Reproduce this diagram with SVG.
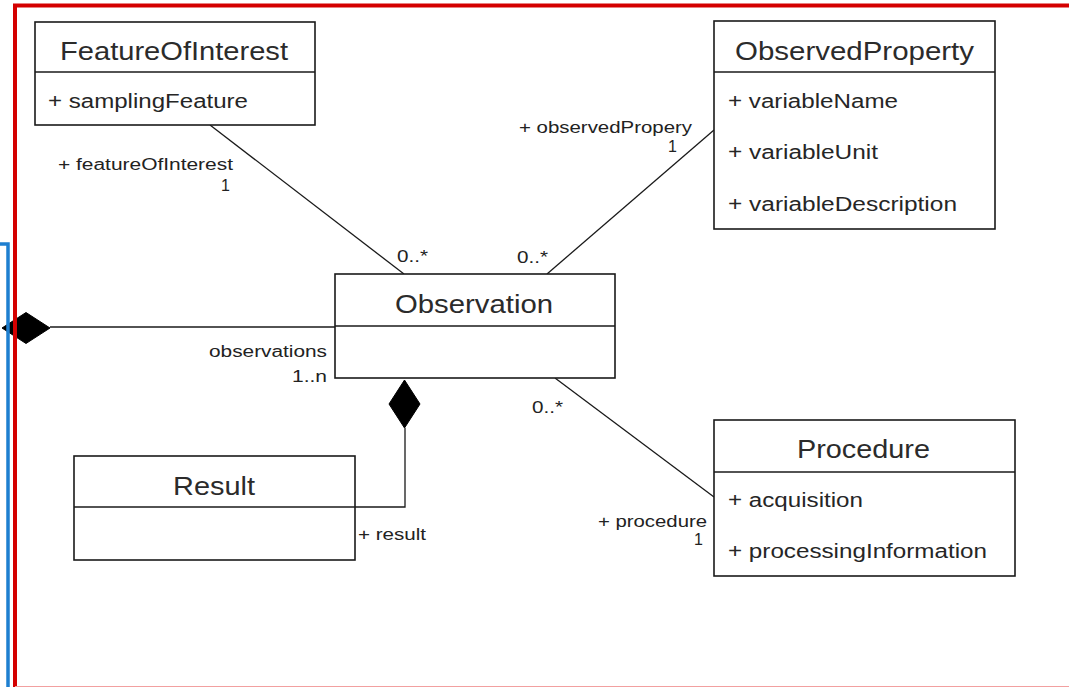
<svg xmlns="http://www.w3.org/2000/svg" width="1069" height="687" viewBox="0 0 1069 687">
  <style>
    .box { fill: #ffffff; stroke: #1a1a1a; stroke-width: 1.6; }
    .div { stroke: #1a1a1a; stroke-width: 1.6; }
    .title { font-family: "Liberation Sans", Arial, sans-serif; font-size: 26px; fill: #2b2b2b; }
    .attr { font-family: "Liberation Sans", Arial, sans-serif; font-size: 20px; fill: #262626; }
    .lbl { font-family: "Liberation Sans", Arial, sans-serif; font-size: 16px; fill: #222; }
    .conn { fill: none; stroke: #1a1a1a; stroke-width: 1.3; }
    .dia { fill: #000; stroke: #000; stroke-width: 1; }
  </style>
  <rect x="0" y="0" width="1069" height="687" fill="#ffffff"/>

  <g id="connectors">
    <!-- aggregation from left container -->
    <polygon class="dia" points="2,328 26,312.5 50,328 26,343.5"/>
    <line class="conn" x1="50" y1="327" x2="335" y2="327"/>
    <!-- FeatureOfInterest - Observation -->
    <line class="conn" x1="210" y1="125" x2="404" y2="274"/>
    <!-- ObservedProperty - Observation -->
    <line class="conn" x1="714" y1="130" x2="547" y2="274"/>
    <!-- Observation - Procedure -->
    <line class="conn" x1="555" y1="378" x2="714" y2="497"/>
    <!-- Result composition -->
    <polyline class="conn" points="355,507 405,507 405,428"/>
    <polygon class="dia" points="404.5,380 420,404 404.5,428 389,404"/>

    <text class="lbl" x="58" y="170" textLength="175" lengthAdjust="spacingAndGlyphs">+ featureOfInterest</text>
    <text class="lbl" x="230" y="191" text-anchor="end">1</text>
    <text class="lbl" x="397" y="262" textLength="31" lengthAdjust="spacingAndGlyphs">0..*</text>
    <text class="lbl" x="519" y="133" textLength="173" lengthAdjust="spacingAndGlyphs">+ observedPropery</text>
    <text class="lbl" x="677" y="152" text-anchor="end">1</text>
    <text class="lbl" x="517" y="263" textLength="31" lengthAdjust="spacingAndGlyphs">0..*</text>
    <text class="lbl" x="209" y="357" textLength="118" lengthAdjust="spacingAndGlyphs">observations</text>
    <text class="lbl" x="292" y="382" textLength="35" lengthAdjust="spacingAndGlyphs">1..n</text>
    <text class="lbl" x="532" y="413" textLength="31" lengthAdjust="spacingAndGlyphs">0..*</text>
    <text class="lbl" x="598" y="527" textLength="109" lengthAdjust="spacingAndGlyphs">+ procedure</text>
    <text class="lbl" x="703" y="545" text-anchor="end">1</text>
    <text class="lbl" x="358" y="540" textLength="68" lengthAdjust="spacingAndGlyphs">+ result</text>
  </g>

  <!-- frame lines -->
  <g id="frames">
    <polyline points="0,244 8,244 8,687" fill="none" stroke="#1e7fd0" stroke-width="3.5"/>
    <polyline points="15,687 15,5.5 1069,5.5" fill="none" stroke="#d40000" stroke-width="4"/>
    <line x1="15" y1="686.5" x2="1069" y2="686.5" stroke="#f2a0a0" stroke-width="1.2"/>
  </g>

  <g id="FeatureOfInterest">
    <rect class="box" x="35" y="22" width="280" height="103"/>
    <line class="div" x1="35" y1="72" x2="315" y2="72"/>
    <text class="title" x="60" y="60" textLength="228" lengthAdjust="spacingAndGlyphs">FeatureOfInterest</text>
    <text class="attr" x="48" y="108" textLength="200" lengthAdjust="spacingAndGlyphs">+ samplingFeature</text>
  </g>

  <g id="ObservedProperty">
    <rect class="box" x="714" y="21" width="281" height="208"/>
    <line class="div" x1="714" y1="72" x2="995" y2="72"/>
    <text class="title" x="735" y="60" textLength="239" lengthAdjust="spacingAndGlyphs">ObservedProperty</text>
    <text class="attr" x="728" y="108" textLength="170" lengthAdjust="spacingAndGlyphs">+ variableName</text>
    <text class="attr" x="728" y="159" textLength="150" lengthAdjust="spacingAndGlyphs">+ variableUnit</text>
    <text class="attr" x="728" y="211" textLength="229" lengthAdjust="spacingAndGlyphs">+ variableDescription</text>
  </g>

  <g id="Observation">
    <rect class="box" x="335" y="274" width="280" height="104"/>
    <line class="div" x1="335" y1="326" x2="615" y2="326"/>
    <text class="title" x="395" y="313" textLength="158" lengthAdjust="spacingAndGlyphs">Observation</text>
  </g>

  <g id="Procedure">
    <rect class="box" x="714" y="420" width="301" height="156"/>
    <line class="div" x1="714" y1="472" x2="1015" y2="472"/>
    <text class="title" x="797" y="458" textLength="133" lengthAdjust="spacingAndGlyphs">Procedure</text>
    <text class="attr" x="728" y="507" textLength="135" lengthAdjust="spacingAndGlyphs">+ acquisition</text>
    <text class="attr" x="728" y="558" textLength="259" lengthAdjust="spacingAndGlyphs">+ processingInformation</text>
  </g>

  <g id="Result">
    <rect class="box" x="74" y="456" width="281" height="104"/>
    <line class="div" x1="74" y1="507" x2="355" y2="507"/>
    <text class="title" x="173" y="495" textLength="82" lengthAdjust="spacingAndGlyphs">Result</text>
  </g>
</svg>
